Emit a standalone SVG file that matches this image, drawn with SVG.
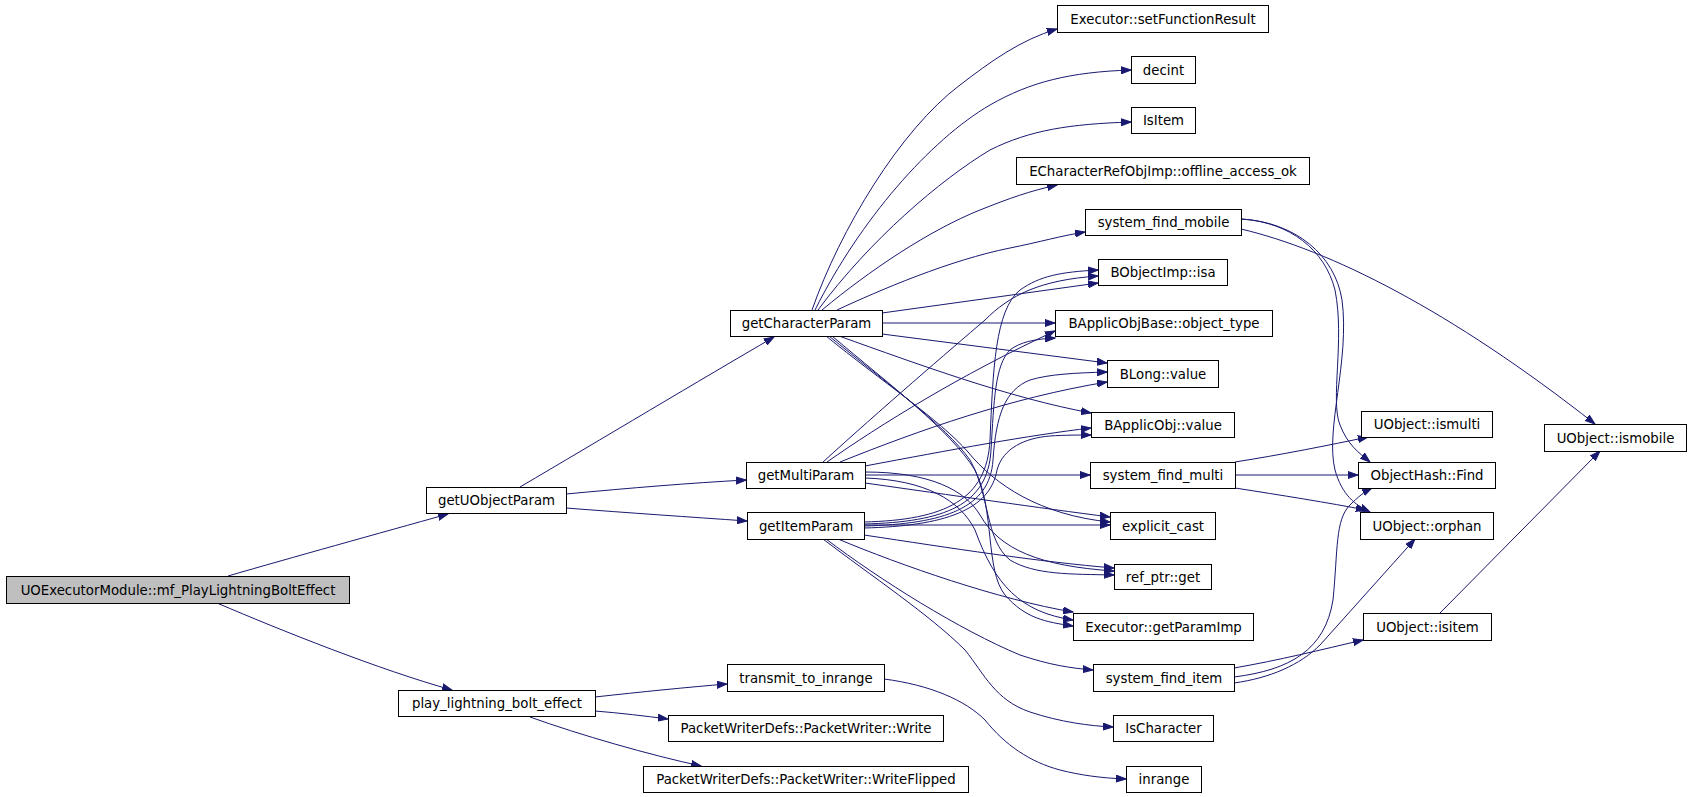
<svg xmlns="http://www.w3.org/2000/svg" width="1691" height="797" viewBox="0 0 1691 797">
<defs>
<marker id="ah" markerWidth="11" markerHeight="8" refX="10" refY="4" orient="auto" markerUnits="userSpaceOnUse">
<path d="M0,0.5 L10,4 L0,7.5 z" fill="#191970" stroke="#191970" stroke-width="1"/>
</marker>
<style>
.n rect{fill:#ffffff;stroke:#000000;stroke-width:1}
.n text{font-family:"DejaVu Sans","Liberation Sans",sans-serif;font-size:13.3px;fill:#000000;text-anchor:middle}
#edges path{fill:none;stroke:#191970;stroke-width:1;marker-end:url(#ah)}
</style>
</defs>
<rect x="0" y="0" width="1691" height="797" fill="#ffffff"/>
<g id="edges">
<path d="M228,576 C290,558 380,533 448,514"/>
<path d="M217,603 C280,630 380,670 452,690"/>
<path d="M520,487 C600,440 700,380 774,337"/>
<path d="M566,494 C630,488 690,483 746,480"/>
<path d="M566,508 C630,513 690,517 747,521"/>
<path d="M595,697 C640,692 690,687 727,684"/>
<path d="M595,711 C620,713 645,716 668,719"/>
<path d="M530,717 C580,735 650,755 701,766"/>
<path d="M884,679 C930,685 965,700 985,720 C1005,745 1030,762 1060,770 C1080,775 1100,778 1126,779"/>
<path d="M812,310 C840,230 900,130 960,85 C990,62 1020,40 1057,29"/>
<path d="M815,310 C860,220 930,140 990,105 C1030,82 1070,72 1131,70"/>
<path d="M818,310 C870,240 940,180 990,150 C1030,130 1070,124 1131,122"/>
<path d="M822,310 C870,270 930,230 980,210 C1010,198 1030,191 1057,185"/>
<path d="M837,310 C880,290 950,260 1010,248 C1040,242 1060,236 1085,232"/>
<path d="M882,313 L1098,283"/>
<path d="M882,323 L1055,323"/>
<path d="M882,334 L1107,363"/>
<path d="M839,336 C920,365 1010,398 1091,413"/>
<path d="M826,336 C880,380 940,420 968,452 C995,485 1040,515 1110,522"/>
<path d="M829,336 C885,382 945,425 970,460 C990,495 985,540 1010,560 C1035,575 1070,574 1114,575"/>
<path d="M832,336 C890,385 950,430 975,470 C995,510 985,570 1005,595 C1025,618 1045,622 1073,626"/>
<path d="M823,462 C880,410 950,350 985,320 C1010,295 1040,280 1098,276"/>
<path d="M827,462 C880,425 960,375 1055,331"/>
<path d="M840,462 C920,430 1010,398 1107,382"/>
<path d="M865,466 C950,450 1030,435 1091,428"/>
<path d="M865,475 L1090,475"/>
<path d="M865,483 C950,495 1040,508 1110,517"/>
<path d="M865,472 C930,472 965,490 980,515 C1000,550 1040,566 1114,571"/>
<path d="M865,478 C925,480 960,500 975,530 C995,585 1020,612 1073,620"/>
<path d="M864,522 C945,520 987,500 990,440 C993,370 995,310 1020,290 C1040,276 1060,272 1098,270"/>
<path d="M864,524 C945,522 988,505 991,450 C994,400 995,365 1010,350 C1020,342 1035,339 1055,338"/>
<path d="M864,526 C945,524 990,508 993,460 C996,415 1005,390 1030,380 C1050,374 1075,373 1107,372"/>
<path d="M864,528 C945,526 990,510 997,470 C1003,448 1025,438 1050,436 C1065,435 1080,435 1091,435"/>
<path d="M864,525 L1110,525"/>
<path d="M864,535 C950,548 1040,562 1114,568"/>
<path d="M838,539 C900,565 1000,600 1073,612"/>
<path d="M826,539 C880,580 960,630 1020,655 C1050,665 1070,668 1093,670"/>
<path d="M823,539 C870,575 930,615 965,650 C985,675 995,700 1030,712 C1060,722 1090,726 1113,727"/>
<path d="M1241,219 C1290,222 1325,250 1335,290 C1345,340 1330,400 1340,425 C1348,445 1358,452 1370,462"/>
<path d="M1241,219 C1295,222 1335,255 1342,300 C1350,360 1325,430 1335,470 C1342,495 1355,505 1370,512"/>
<path d="M1241,229 C1330,250 1450,310 1595,424"/>
<path d="M1235,462 C1280,455 1330,445 1368,437"/>
<path d="M1235,475 L1358,475"/>
<path d="M1235,488 C1280,495 1330,503 1366,510"/>
<path d="M1234,668 C1280,660 1320,650 1363,640"/>
<path d="M1234,677 C1290,670 1325,650 1333,600 C1338,550 1335,520 1350,505 C1358,497 1364,492 1372,488"/>
<path d="M1234,683 C1270,678 1300,665 1320,645 L1415,539"/>
<path d="M1440,613 L1600,451"/>
</g>
<g id="n_mf" class="n"><rect x="6.5" y="576.5" width="343" height="27" style="fill:#bfbfbf"/><text x="178" y="594.5">UOExecutorModule::mf_PlayLightningBoltEffect</text></g>
<g id="n_getUObjectParam" class="n"><rect x="426.5" y="487.5" width="140" height="26"/><text x="496.5" y="505">getUObjectParam</text></g>
<g id="n_play" class="n"><rect x="398.5" y="690.5" width="197" height="26"/><text x="497" y="708">play_lightning_bolt_effect</text></g>
<g id="n_getCharacterParam" class="n"><rect x="730.5" y="310.5" width="152" height="26"/><text x="806.5" y="328">getCharacterParam</text></g>
<g id="n_getMultiParam" class="n"><rect x="746.5" y="462.5" width="119" height="26"/><text x="806" y="480">getMultiParam</text></g>
<g id="n_getItemParam" class="n"><rect x="747.5" y="512.5" width="117" height="27"/><text x="806" y="530.5">getItemParam</text></g>
<g id="n_transmit" class="n"><rect x="727.5" y="664.5" width="157" height="27"/><text x="806" y="682.5">transmit_to_inrange</text></g>
<g id="n_write" class="n"><rect x="668.5" y="715.5" width="275" height="26"/><text x="806" y="733">PacketWriterDefs::PacketWriter::Write</text></g>
<g id="n_writeflipped" class="n"><rect x="643.5" y="766.5" width="325" height="26"/><text x="806" y="784">PacketWriterDefs::PacketWriter::WriteFlipped</text></g>
<g id="n_setFunctionResult" class="n"><rect x="1057.5" y="5.5" width="211" height="27"/><text x="1163" y="23.5">Executor::setFunctionResult</text></g>
<g id="n_decint" class="n"><rect x="1131.5" y="56.5" width="64" height="27"/><text x="1163.5" y="74.5">decint</text></g>
<g id="n_IsItem" class="n"><rect x="1131.5" y="107.5" width="64" height="26"/><text x="1163.5" y="125">IsItem</text></g>
<g id="n_offline" class="n"><rect x="1016.5" y="157.5" width="293" height="27"/><text x="1163" y="175.5">ECharacterRefObjImp::offline_access_ok</text></g>
<g id="n_sfmobile" class="n"><rect x="1085.5" y="209.5" width="156" height="26"/><text x="1163.5" y="227">system_find_mobile</text></g>
<g id="n_isa" class="n"><rect x="1098.5" y="259.5" width="129" height="26"/><text x="1163" y="277">BObjectImp::isa</text></g>
<g id="n_object_type" class="n"><rect x="1055.5" y="310.5" width="217" height="26"/><text x="1164" y="328">BApplicObjBase::object_type</text></g>
<g id="n_blong" class="n"><rect x="1107.5" y="360.5" width="111" height="27"/><text x="1163" y="378.5">BLong::value</text></g>
<g id="n_bapplicobj" class="n"><rect x="1091.5" y="412.5" width="143" height="25"/><text x="1163" y="429.5">BApplicObj::value</text></g>
<g id="n_sfmulti" class="n"><rect x="1090.5" y="462.5" width="145" height="26"/><text x="1163" y="480">system_find_multi</text></g>
<g id="n_explicit_cast" class="n"><rect x="1110.5" y="512.5" width="105" height="27"/><text x="1163" y="530.5">explicit_cast</text></g>
<g id="n_ref_ptr" class="n"><rect x="1114.5" y="564.5" width="97" height="25"/><text x="1163" y="581.5">ref_ptr::get</text></g>
<g id="n_getParamImp" class="n"><rect x="1073.5" y="613.5" width="180" height="27"/><text x="1163.5" y="631.5">Executor::getParamImp</text></g>
<g id="n_sfitem" class="n"><rect x="1093.5" y="664.5" width="141" height="27"/><text x="1164" y="682.5">system_find_item</text></g>
<g id="n_IsCharacter" class="n"><rect x="1113.5" y="715.5" width="100" height="26"/><text x="1163.5" y="733">IsCharacter</text></g>
<g id="n_inrange" class="n"><rect x="1126.5" y="766.5" width="75" height="26"/><text x="1164" y="784">inrange</text></g>
<g id="n_ismulti" class="n"><rect x="1361.5" y="411.5" width="131" height="26"/><text x="1427" y="429">UObject::ismulti</text></g>
<g id="n_find" class="n"><rect x="1358.5" y="462.5" width="137" height="26"/><text x="1427" y="480">ObjectHash::Find</text></g>
<g id="n_orphan" class="n"><rect x="1360.5" y="512.5" width="133" height="27"/><text x="1427" y="530.5">UObject::orphan</text></g>
<g id="n_isitem" class="n"><rect x="1363.5" y="613.5" width="128" height="27"/><text x="1427.5" y="631.5">UObject::isitem</text></g>
<g id="n_ismobile" class="n"><rect x="1544.5" y="424.5" width="142" height="27"/><text x="1615.5" y="442.5">UObject::ismobile</text></g>
</svg>
